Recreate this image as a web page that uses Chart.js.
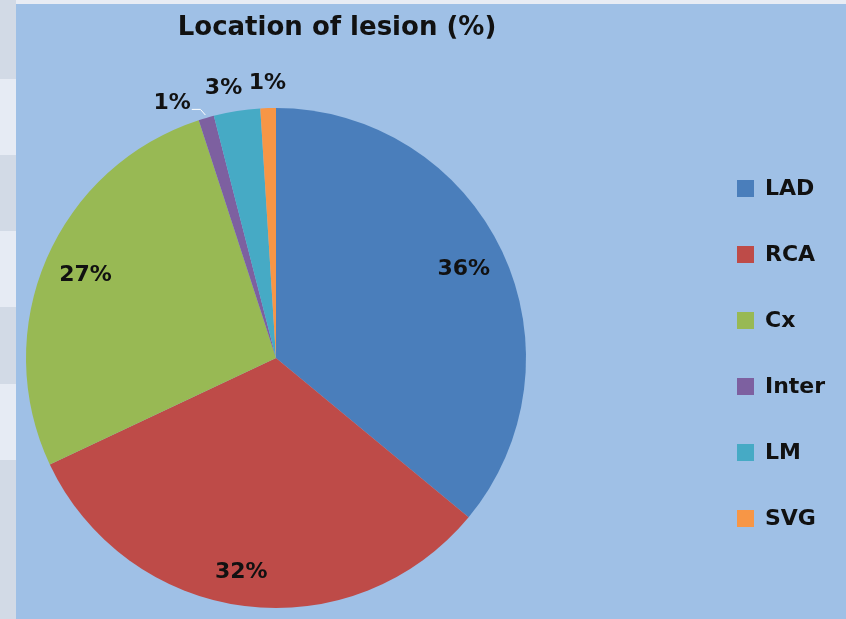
<!DOCTYPE html>
<html>
<head>
<meta charset="utf-8">
<script src="https://cdn.jsdelivr.net/npm/chart.js"></script>
<style>
    html, body { margin: 0; padding: 0; background: #E8ECF4; }
    #chartLesion { display: block; }
</style>
</head>
<body>
<canvas id="chartLesion" width="846" height="619"></canvas>
<script>
// Datos del gráfico
const chartTitle = 'Location of lesion (%)';
const locations = ['LAD', 'RCA', 'Cx', 'Inter', 'LM', 'SVG'];
const percents = [36, 32, 27, 1, 3, 1];
const sliceColors = ['#4A7EBB', '#BE4B48', '#98B954', '#7D60A0', '#46AAC5', '#F79646'];
// ajuste de las etiquetas: ángulo (grados) y distancia relativa al radio
const labelNudge = [0, 2, 0, -6, -2, 0];
const labelDist = [0.83, 0.87, 0.83, 1.1, 1.1, 1.1];

const FONT = '"DejaVu Sans", sans-serif';

// Fondo, etiquetas, título y leyenda
const lesionPlugin = {
    id: 'lesionPlugin',
    beforeDraw(chart) {
        const ctx = chart.ctx;
        ctx.save();
        ctx.fillStyle = '#E8ECF4';
        ctx.fillRect(0, 0, chart.width, chart.height);
        // franjas de la tabla a la izquierda
        const bands = [0, 79, 155, 231, 307, 384, 460, 619];
        for (let i = 0; i < bands.length - 1; i++) {
            ctx.fillStyle = i % 2 === 0 ? '#D2DAE6' : '#E6EBF4';
            ctx.fillRect(0, bands[i], 16, bands[i + 1] - bands[i]);
        }
        ctx.fillStyle = '#9FC0E6';
        ctx.fillRect(16, 4, chart.width - 16, chart.height - 4);
        ctx.restore();
    },
    afterDatasetsDraw(chart) {
        const ctx = chart.ctx;
        const meta = chart.getDatasetMeta(0);
        ctx.save();
        ctx.font = 'bold 22px ' + FONT;
        ctx.fillStyle = '#111111';
        ctx.textAlign = 'center';
        ctx.textBaseline = 'middle';
        meta.data.forEach((arc, i) => {
            const mid = (arc.startAngle + arc.endAngle) / 2;
            const r = arc.outerRadius;
            const txt = percents[i] + '%';
            const a = mid + labelNudge[i] * Math.PI / 180;
            const lx = arc.x + Math.cos(a) * r * labelDist[i];
            const ly = arc.y + Math.sin(a) * r * labelDist[i];
            ctx.fillText(txt, lx, ly);
            if (labelDist[i] > 1 && labelNudge[i] < -3) {
                // línea guía
                const w = ctx.measureText(txt).width;
                const ex = arc.x + Math.cos(mid) * (r + 3);
                const ey = arc.y + Math.sin(mid) * (r + 3);
                ctx.strokeStyle = '#FFFFFF';
                ctx.lineWidth = 1;
                ctx.beginPath();
                ctx.moveTo(lx + w / 2 + 1, ly + 6);
                ctx.lineTo(ex - 5, ly + 6);
                ctx.lineTo(ex, ey);
                ctx.stroke();
            }
        });
        ctx.restore();
    },
    afterDraw(chart) {
        const ctx = chart.ctx;
        ctx.save();
        // título
        ctx.font = 'bold 26px ' + FONT;
        ctx.fillStyle = '#111111';
        ctx.textAlign = 'center';
        ctx.textBaseline = 'middle';
        ctx.fillText(chartTitle, 337, 28);
        // leyenda
        ctx.font = 'bold 22px ' + FONT;
        ctx.textAlign = 'left';
        locations.forEach((name, i) => {
            const y = 188 + i * 66;
            ctx.fillStyle = sliceColors[i];
            ctx.fillRect(737, y - 8, 17, 17);
            ctx.fillStyle = '#111111';
            ctx.fillText(name, 765, y + 1);
        });
        ctx.restore();
    }
};

const ctx = document.getElementById('chartLesion').getContext('2d');
new Chart(ctx, {
    type: 'pie',
    data: {
        labels: locations,
        datasets: [{
            data: percents,
            backgroundColor: sliceColors,
            borderWidth: 0
        }]
    },
    options: {
        responsive: false,
        animation: false,
        layout: {
            padding: { left: 26, top: 108, right: 320, bottom: 11 }
        },
        plugins: {
            legend: { display: false },
            tooltip: { enabled: false }
        }
    },
    plugins: [lesionPlugin]
});
</script>
</body>
</html>
